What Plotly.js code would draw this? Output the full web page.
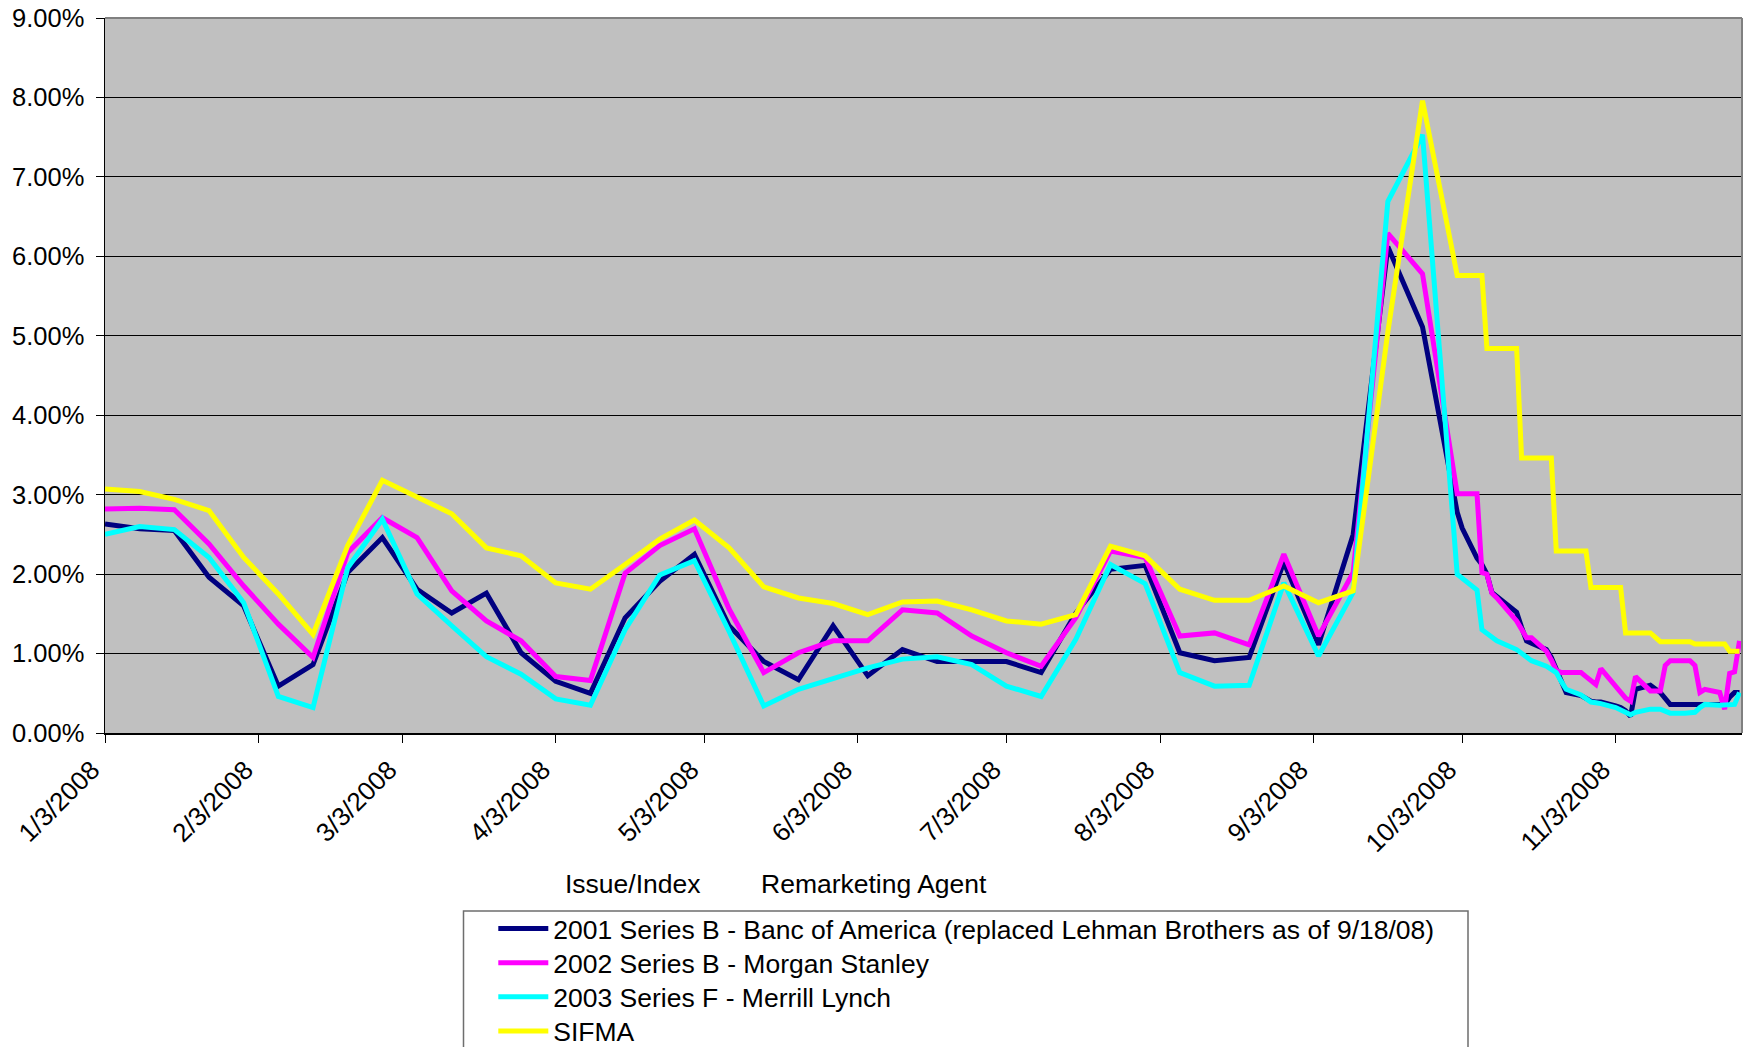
<!DOCTYPE html>
<html>
<head>
<meta charset="utf-8">
<script src="https://cdn.plot.ly/plotly-3.0.1.min.js"></script>
<style>html,body{margin:0;padding:0;background:#fff;}#chart{width:1745px;height:1047px;}</style>
</head>
<body>
<div id="chart"></div>
<script>
// Weekly observations (Thursdays) through 10/2/2008
const weeklyDates = ['2008-01-03','2008-01-10','2008-01-17','2008-01-24','2008-01-31','2008-02-07','2008-02-14','2008-02-21','2008-02-28','2008-03-06','2008-03-13','2008-03-20','2008-03-27','2008-04-03','2008-04-10','2008-04-17','2008-04-24','2008-05-01','2008-05-08','2008-05-15','2008-05-22','2008-05-29','2008-06-05','2008-06-12','2008-06-19','2008-06-26','2008-07-03','2008-07-10','2008-07-17','2008-07-24','2008-07-31','2008-08-07','2008-08-14','2008-08-21','2008-08-28','2008-09-04','2008-09-11','2008-09-18','2008-09-25','2008-10-02'];
// Daily (business day) observations afterwards
const dailyDates = ['2008-10-03','2008-10-06','2008-10-07','2008-10-08','2008-10-09','2008-10-10','2008-10-14','2008-10-15','2008-10-16','2008-10-17','2008-10-20','2008-10-21','2008-10-22','2008-10-23','2008-10-24','2008-10-27','2008-10-28','2008-10-29','2008-10-30','2008-10-31','2008-11-03','2008-11-04','2008-11-05','2008-11-06','2008-11-07','2008-11-10','2008-11-12','2008-11-13','2008-11-14','2008-11-17','2008-11-18','2008-11-19','2008-11-20','2008-11-21','2008-11-24','2008-11-25','2008-11-26','2008-11-27','2008-11-28'];

const seriesNames = ['2001 Series B - Banc of America (replaced Lehman Brothers as of 9/18/08)','2002 Series B - Morgan Stanley','2003 Series F - Merrill Lynch','SIFMA'];

const bofaWeekly = [2.63,2.57,2.55,1.96,1.60,0.59,0.86,2.02,2.46,1.81,1.51,1.76,1.01,0.65,0.50,1.45,1.91,2.25,1.35,0.90,0.67,1.35,0.72,1.05,0.90,0.90,0.90,0.76,1.51,2.06,2.11,1.01,0.91,0.95,2.15,1.11,2.50,6.12,5.11,2.78];
const bofaDaily = [2.58,2.20,2.12,2.00,1.77,1.72,1.52,1.33,1.16,1.13,1.05,0.95,0.81,0.65,0.51,0.47,0.43,0.40,0.39,0.39,0.34,0.32,0.28,0.21,0.55,0.60,0.51,0.43,0.36,0.36,0.36,0.36,0.36,0.36,0.36,0.36,0.45,0.51,0.51];

const msWeekly = [2.82,2.83,2.81,2.38,1.85,1.37,0.95,2.27,2.71,2.46,1.79,1.41,1.16,0.71,0.66,2.01,2.36,2.57,1.56,0.76,1.01,1.16,1.16,1.55,1.51,1.22,1.01,0.84,1.45,2.29,2.21,1.22,1.26,1.11,2.25,1.22,2.02,6.29,5.78,3.01];
const msDaily = [3.01,3.01,2.02,2.00,1.76,1.70,1.41,1.30,1.20,1.20,1.03,0.92,0.79,0.76,0.76,0.76,0.71,0.65,0.61,0.81,0.60,0.52,0.44,0.40,0.71,0.53,0.53,0.85,0.91,0.91,0.91,0.85,0.51,0.55,0.51,0.30,0.75,0.77,1.16];

const mlWeekly = [2.50,2.60,2.56,2.21,1.64,0.46,0.32,2.08,2.69,1.75,1.35,0.96,0.74,0.43,0.35,1.30,1.99,2.17,1.28,0.34,0.55,0.69,0.82,0.93,0.96,0.86,0.59,0.46,1.18,2.12,1.88,0.76,0.59,0.60,1.89,0.97,1.77,6.69,7.53,2.00];
const mlDaily = [1.95,1.80,1.30,1.25,1.20,1.16,1.05,1.00,0.95,0.91,0.84,0.80,0.76,0.65,0.55,0.48,0.43,0.39,0.38,0.37,0.32,0.29,0.25,0.23,0.26,0.30,0.30,0.27,0.25,0.25,0.25,0.26,0.32,0.36,0.35,0.35,0.36,0.36,0.51];

const sifmaWeekly = [3.07,3.04,2.94,2.80,2.21,1.75,1.24,2.36,3.18,2.97,2.76,2.33,2.23,1.89,1.81,2.12,2.44,2.68,2.33,1.84,1.70,1.63,1.49,1.65,1.66,1.55,1.41,1.37,1.49,2.35,2.23,1.81,1.67,1.67,1.85,1.64,1.79,5.05,7.96,5.76];
const sifmaDaily = [5.76,5.76,5.76,4.84,4.84,4.84,4.84,3.46,3.46,3.46,3.46,3.46,2.29,2.29,2.29,2.29,2.29,1.83,1.83,1.83,1.83,1.83,1.26,1.26,1.26,1.26,1.15,1.15,1.15,1.15,1.15,1.12,1.12,1.12,1.12,1.12,1.03,1.03,1.03];

const yTicks = [0,1,2,3,4,5,6,7,8,9];
const yTickText = yTicks.map(v => v.toFixed(2) + '%');

const dates = weeklyDates.concat(dailyDates);
const values = [bofaWeekly.concat(bofaDaily), msWeekly.concat(msDaily), mlWeekly.concat(mlDaily), sifmaWeekly.concat(sifmaDaily)];
const colors = ['#000080','#FF00FF','#00FFFF','#FFFF00'];
const legendIds = ['legend','legend2','legend3','legend4'];

const FONT = 'Liberation Sans, Arial, sans-serif';

const traces = seriesNames.map((n, i) => ({
  type: 'scatter', mode: 'lines', name: n,
  x: dates, y: values[i],
  legend: legendIds[i],
  line: {color: colors[i], width: 5},
  hoverinfo: 'skip'
}));

// plot area in pixels: left 105, right 1742, top 18, bottom 733.5
const L = 105, R = 1742, T = 18, B = 733.5;
const px = v => (v - L) / (R - L);
const py = v => (B - v) / (B - T);

const LEG_FONT = 26.5;
const rowCenters = [929, 963.3, 997.3, 1031.7];
const itemH = LEG_FONT * 1.3 + 3;

const layout = {
  width: 1745, height: 1047,
  margin: {l: L, r: 1745 - R, t: T, b: 1047 - B, autoexpand: false},
  paper_bgcolor: '#FFFFFF',
  plot_bgcolor: '#C0C0C0',
  font: {family: FONT, color: '#000000', size: 24},
  showlegend: true,
  xaxis: {
    type: 'date',
    range: ['2008-01-03', '2008-11-28 12:00'],
    tick0: '2008-01-03', dtick: 'M1',
    tickformat: '%-m/%-d/%Y',
    tickangle: -45,
    ticks: 'outside', ticklen: 8, tickwidth: 1, tickcolor: '#000000',
    ticklabelstandoff: 2, ticklabelshift: -13,
    showline: true, linecolor: '#000000', linewidth: 1.5,
    showgrid: false, zeroline: false,
    tickfont: {family: FONT, size: 26, color: '#000000'}
  },
  yaxis: {
    range: [0, 9],
    tickvals: yTicks, ticktext: yTickText,
    ticks: 'outside', ticklen: 8, tickwidth: 1, tickcolor: '#000000',
    ticklabelstandoff: 6,
    showline: true, linecolor: '#000000', linewidth: 1.5,
    showgrid: true, gridcolor: '#000000', gridwidth: 1,
    zeroline: false,
    tickfont: {family: FONT, size: 25.5, color: '#000000'}
  },
  shapes: [
    {type: 'line', xref: 'paper', yref: 'paper', x0: 0, x1: 1, y0: 1, y1: 1, line: {color: '#808080', width: 2}, layer: 'above'},
    {type: 'line', xref: 'paper', yref: 'paper', x0: 1, x1: 1, y0: 0, y1: 1, line: {color: '#808080', width: 2}, layer: 'above'},
    {type: 'rect', xref: 'paper', yref: 'paper', x0: px(463.5), x1: px(1468), y0: py(911.7), y1: py(1070), line: {color: '#6E6E6E', width: 1.5}, fillcolor: 'rgba(0,0,0,0)', layer: 'above'}
  ],
  annotations: [
    {xref: 'paper', yref: 'paper', x: px(633), y: py(885), text: 'Issue/Index', showarrow: false, xanchor: 'center', yanchor: 'middle', font: {family: FONT, size: 26.5, color: '#000000'}},
    {xref: 'paper', yref: 'paper', x: px(874), y: py(885), text: 'Remarketing Agent', showarrow: false, xanchor: 'center', yanchor: 'middle', font: {family: FONT, size: 26.5, color: '#000000'}}
  ]
};

legendIds.forEach((id, i) => {
  layout[id] = {
    x: px(493.3), y: py(rowCenters[i] - itemH / 2 - 5),
    xanchor: 'left', yanchor: 'top',
    bgcolor: 'rgba(0,0,0,0)', borderwidth: 0,
    itemwidth: 50,
    font: {family: FONT, size: LEG_FONT, color: '#000000'}
  };
});

Plotly.newPlot('chart', traces, layout, {displayModeBar: false, staticPlot: true});
</script>
</body>
</html>
